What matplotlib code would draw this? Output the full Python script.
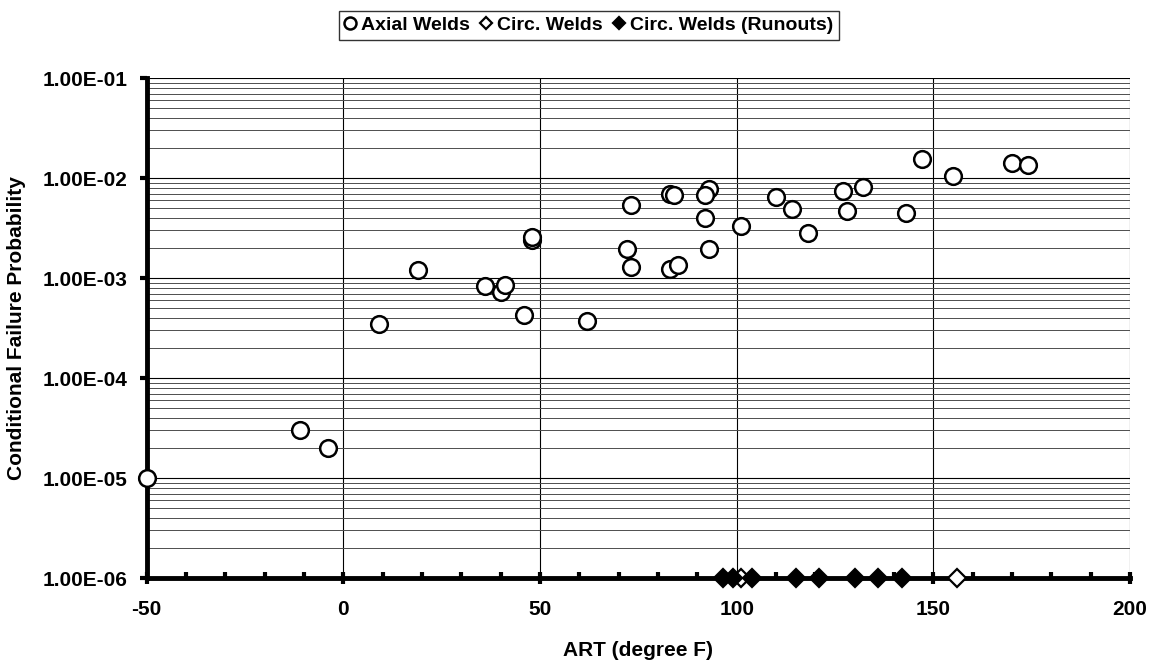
import matplotlib.pyplot as plt
from matplotlib.ticker import FixedLocator, FuncFormatter, LogLocator, NullFormatter
import numpy as np

plt.rcParams['font.family'] = ['Liberation Sans', 'DejaVu Sans']
plt.rcParams['font.weight'] = 'bold'
plt.rcParams['axes.unicode_minus'] = False

# Axial welds: ART (deg F) and conditional failure probability
axial_art = [-50, -11, -4, 9, 19, 36, 40, 41, 46, 48, 48, 62,
             73, 72, 73, 83, 84, 83, 85, 93, 92, 92, 93, 101,
             110, 114, 118, 127, 128, 132, 143, 147, 155, 170, 174]
axial_cfp = [1.0e-5, 3.0e-5, 2.0e-5, 3.5e-4, 1.2e-3, 8.4e-4, 7.3e-4, 8.6e-4, 4.3e-4, 2.4e-3, 2.6e-3, 3.7e-4,
             5.4e-3, 1.97e-3, 1.3e-3, 7.0e-3, 6.7e-3, 1.22e-3, 1.36e-3, 7.8e-3, 6.8e-3, 4.0e-3, 1.95e-3, 3.35e-3,
             6.5e-3, 4.9e-3, 2.8e-3, 7.5e-3, 4.7e-3, 8.1e-3, 4.5e-3, 1.55e-2, 1.04e-2, 1.4e-2, 1.36e-2]

# Circumferential welds
circ_art = [101, 156]
circ_cfp = [1e-6, 1e-6]

# Circumferential welds, runouts
runout_art = [96.5, 99, 104, 115, 121, 130, 136, 142]
runout_cfp = [1e-6] * len(runout_art)

fig = plt.figure(figsize=(11.57, 6.68), dpi=100)
ax = fig.add_axes([0.1268, 0.1347, 0.8499, 0.7485])

ax.set_yscale('log')
ax.set_xlim(-50, 200)
ax.set_ylim(1e-6, 1e-1)

ax.grid(True, which='major', axis='both', color='black', linewidth=0.8)
ax.grid(True, which='minor', axis='y', color='0.3', linewidth=0.7)
ax.set_axisbelow(True)

ax.plot(circ_art, circ_cfp, linestyle='none', marker='D', markersize=9,
        markerfacecolor='white', markeredgecolor='black', markeredgewidth=1.6,
        clip_on=False, zorder=5, label='Circ. Welds')
ax.plot(runout_art, runout_cfp, linestyle='none', marker='D', markersize=9,
        markerfacecolor='black', markeredgecolor='black', markeredgewidth=1.6,
        clip_on=False, zorder=6, label='Circ. Welds (Runouts)')
ax.plot(axial_art, axial_cfp, linestyle='none', marker='o', markersize=12,
        markerfacecolor='white', markeredgecolor='black', markeredgewidth=1.8,
        clip_on=False, zorder=7, label='Axial Welds')

for s in ['top', 'right']:
    ax.spines[s].set_visible(False)
for s in ['left', 'bottom']:
    ax.spines[s].set_linewidth(3.5)
    ax.spines[s].set_zorder(4)

ax.xaxis.set_major_locator(FixedLocator([-50, 0, 50, 100, 150, 200]))
ax.xaxis.set_minor_locator(FixedLocator(np.arange(-50, 201, 10)))
ax.tick_params(axis='x', which='major', direction='inout', length=9, width=3, pad=11, labelsize=15)
ax.tick_params(axis='x', which='minor', direction='in', length=4, width=3)

ax.yaxis.set_major_locator(LogLocator(base=10, numticks=10))
ax.yaxis.set_minor_locator(LogLocator(base=10, subs=np.arange(2, 10), numticks=10))
ax.yaxis.set_major_formatter(FuncFormatter(lambda v, p: '{0:.2E}'.format(v)))
ax.yaxis.set_minor_formatter(NullFormatter())
ax.tick_params(axis='y', which='major', direction='out', length=5, width=3, pad=9, labelsize=15)
ax.tick_params(axis='y', which='minor', length=0)

for t in ax.get_xticklabels() + ax.get_yticklabels():
    t.set_fontweight('bold')

ax.set_xlabel('ART (degree F)', fontsize=15, fontweight='bold', labelpad=16)
ax.set_ylabel('Conditional Failure Probability', fontsize=15, fontweight='bold', labelpad=12)

handles, labels = ax.get_legend_handles_labels()
order = [2, 0, 1]
legend = fig.legend([handles[i] for i in order], [labels[i] for i in order],
                    loc='upper center', bbox_to_anchor=(0.509, 0.984), borderaxespad=0,
                    ncol=3, frameon=True, fancybox=False, edgecolor='black',
                    handlelength=0.6, handletextpad=0.25, columnspacing=0.55,
                    borderpad=0.3, prop={'weight': 'bold', 'size': 14}, markerscale=0.72)
legend.get_frame().set_linewidth(1.0)

fig.savefig('out.png', dpi=100)
